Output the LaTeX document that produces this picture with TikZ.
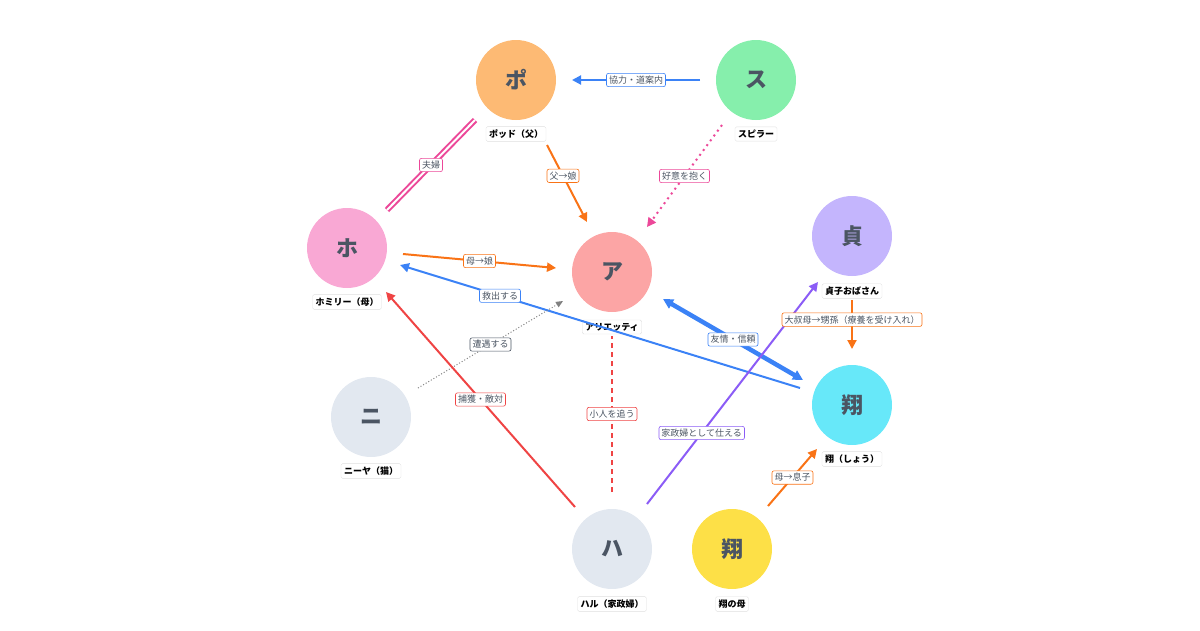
\documentclass[tikz,border=0pt]{standalone}
\usepackage{fontspec}
\setmainfont{Noto Sans CJK JP}
\usetikzlibrary{arrows.meta}
\definecolor{tx}{HTML}{4B5563}
\definecolor{cpo}{HTML}{FDBA74}
\definecolor{csu}{HTML}{86EFAC}
\definecolor{cho}{HTML}{F9A8D4}
\definecolor{ca}{HTML}{FCA5A5}
\definecolor{cte}{HTML}{C4B5FD}
\definecolor{cgr}{HTML}{E2E8F0}
\definecolor{csh}{HTML}{67E8F9}
\definecolor{csm}{HTML}{FDE047}
\definecolor{blu}{HTML}{3B82F6}
\definecolor{pnk}{HTML}{EC4899}
\definecolor{org}{HTML}{F97316}
\definecolor{rd}{HTML}{EF4444}
\definecolor{pur}{HTML}{8B5CF6}
\begin{document}
\begin{tikzpicture}[x=1pt,y=-1pt,
 c/.style={circle,minimum size=80pt,inner sep=0pt,font=\fontsize{22}{22}\selectfont\bfseries,text=tx},
 nm/.style={draw=black!12,fill=white,rounded corners=1.5pt,font=\fontsize{9}{10}\selectfont\bfseries,inner sep=3pt},
 lb/.style={draw=#1,fill=white,rounded corners=2pt,font=\fontsize{9}{10}\selectfont,text=tx,inner sep=2.5pt,line width=0.6pt},
 e/.style={draw=#1,line width=2pt,-{Triangle[length=9pt,width=9pt]}}]
\useasboundingbox (0,0) rectangle (1200,630);
\node[c,fill=cpo] (po) at (516,80) {ポ};
\node[c,fill=csu] (su) at (756,80) {ス};
\node[c,fill=cho] (ho) at (347,248) {ホ};
\node[c,fill=ca] (a) at (612,272) {ア};
\node[c,fill=cte] (te) at (852,236) {貞};
\node[c,fill=cgr] (ni) at (371,417) {ニ};
\node[c,fill=csh] (sh) at (852,405) {翔};
\node[c,fill=cgr] (ha) at (612,549) {ハ};
\node[c,fill=csm] (sm) at (732,549) {翔};
\node[nm] (npo) at (516,134) {ポッド（父）};
\node[nm] (nsu) at (756,134) {スピラー};
\node[nm] (nho) at (347,302) {ホミリー（母）};
\node[nm] (na) at (612,327) {アリエッティ};
\node[nm] (nte) at (852,291) {貞子おばさん};
\node[nm] (nni) at (371,471) {ニーヤ（猫）};
\node[nm] (nsh) at (852,459) {翔（しょう）};
\node[nm] (nha) at (612,604) {ハル（家政婦）};
\node[nm] (nsm) at (732,604) {翔の母};
\coordinate (p1) at (700,80); \coordinate (p2) at (572,80);
\coordinate (p3) at (475,120); \coordinate (p4) at (387,210);
\coordinate (p5) at (547,145); \coordinate (p6) at (587,222);
\coordinate (p7) at (722,125); \coordinate (p8) at (647,227);
\coordinate (p9) at (403,254); \coordinate (p10) at (556,268);
\coordinate (p11) at (800,388); \coordinate (p12) at (400,265);
\coordinate (p13) at (418,388); \coordinate (p14) at (563,301);
\coordinate (p15) at (575,507); \coordinate (p16) at (386,292);
\coordinate (p17) at (612,492); \coordinate (p18) at (612,336);
\coordinate (p19) at (663,299); \coordinate (p20) at (803,380);
\coordinate (p21) at (647,504); \coordinate (p22) at (818,282);
\coordinate (p23) at (852,300); \coordinate (p24) at (852,349);
\coordinate (p25) at (768,506); \coordinate (p26) at (817,449);
\draw[e=blu] (p1) -- (p2) node[midway,lb=blu] {協力・道案内};
\draw[draw=pnk,line width=6pt] (p3) -- (p4);
\draw[draw=white,line width=2pt] (p3) -- (p4) node[midway,lb=pnk] {夫婦};
\draw[e=org] (p5) -- (p6) node[pos=0.4,lb=org] {父→娘};
\draw[e=pnk,dash pattern=on 2pt off 4pt] (p7) -- (p8) node[midway,lb=pnk,solid] {好意を抱く};
\draw[e=org] (p9) -- (p10) node[midway,lb=org] {母→娘};
\draw[e=blu] (p11) -- (p12) node[pos=0.75,lb=blu] {救出する};
\draw[draw=gray,line width=1pt,dotted,-{Triangle[length=7pt,width=6pt]}] (p13) -- (p14) node[midway,lb=tx,solid] {遭遇する};
\draw[e=rd] (p15) -- (p16) node[midway,lb=rd] {捕獲・敵対};
\draw[draw=rd,line width=2pt,dash pattern=on 5pt off 4pt] (p17) -- (p18) node[midway,lb=rd,solid] {小人を追う};
\draw[draw=blu,line width=4.5pt,{Triangle[length=10pt,width=10pt]}-{Triangle[length=10pt,width=10pt]}] (p19) -- (p20) node[midway,lb=blu] {友情・信頼};
\draw[e=pur] (p21) -- (p22) node[pos=0.32,lb=pur] {家政婦として仕える};
\draw[e=org] (p23) -- (p24) node[pos=0.4,lb=org] {大叔母→甥孫（療養を受け入れ）};
\draw[e=org] (p25) -- (p26) node[midway,lb=org] {母→息子};
\end{tikzpicture}
\end{document}
